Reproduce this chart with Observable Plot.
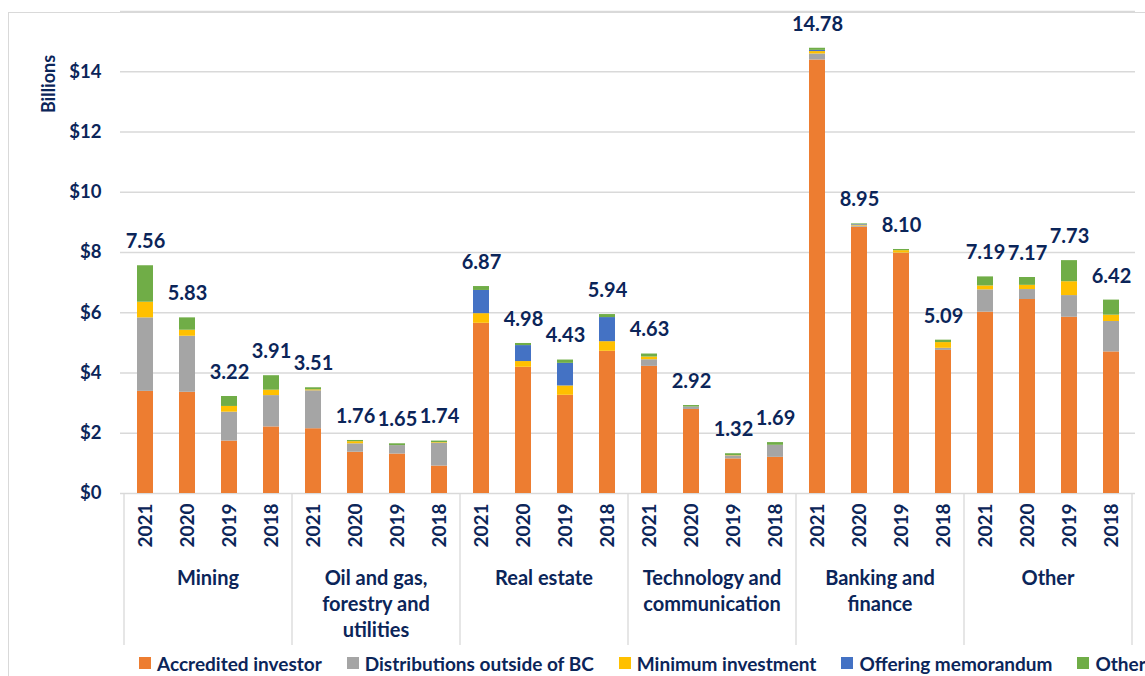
<!DOCTYPE html>
<html><head><meta charset="utf-8">
<script src="https://cdn.jsdelivr.net/npm/d3@7"></script>
<script src="https://cdn.jsdelivr.net/npm/@observablehq/plot@0.6"></script>
<style>
body{margin:0;background:#fff;font-family:Lato,sans-serif;width:1145px;height:676px;overflow:hidden;position:relative}
#chart{position:absolute;left:0;top:0}
#frame{position:absolute;left:8px;top:12px;width:1200px;height:700px;border:1px solid #d9d9d9;pointer-events:none}
#legend{position:absolute;left:139px;top:650px;height:26px;display:flex;align-items:center;white-space:nowrap;font-weight:700;font-size:19px;color:#0b2559}
.item{display:flex;align-items:center;margin-right:25px}
.sw{width:12px;height:12px;margin-right:6px}
</style></head><body>
<div id="chart"></div><div id="legend"></div><div id="frame"></div>
<script>
const navy = "#0b2559";
const categories = ["Mining", "Oil and gas, forestry and utilities", "Real estate", "Technology and communication", "Banking and finance", "Other"];
const categoryLines = [["Mining"], ["Oil and gas,", "forestry and", "utilities"], ["Real estate"], ["Technology and", "communication"], ["Banking and", "finance"], ["Other"]];
const years = ["2021", "2020", "2019", "2018"];
const seriesNames = ["Accredited investor", "Distributions outside of BC", "Minimum investment", "Offering memorandum", "Other"];
const seriesColors = ["#ED7D31", "#A5A5A5", "#FFC000", "#4472C4", "#70AD47"];
const yTicks = [0, 2, 4, 6, 8, 10, 12, 14];
const gridValues = [0, 2, 4, 6, 8, 10, 12, 14, 16];

// values per category (rows) by year 2021, 2020, 2019, 2018 (columns), $ billions
const accredited = [
  [3.39, 3.36, 1.74, 2.21],
  [2.15, 1.37, 1.31, 0.91],
  [5.65, 4.19, 3.26, 4.72],
  [4.22, 2.79, 1.15, 1.20],
  [14.39, 8.84, 7.97, 4.75],
  [6.02, 6.44, 5.85, 4.70]
];
const distributions = [
  [2.44, 1.86, 0.96, 1.04],
  [1.26, 0.28, 0.28, 0.76],
  [0, 0, 0, 0],
  [0.22, 0.08, 0.10, 0.40],
  [0.20, 0.04, 0.01, 0.07],
  [0.74, 0.33, 0.72, 1.01]
];
const minimum = [
  [0.52, 0.20, 0.19, 0.18],
  [0.03, 0.07, 0, 0.02],
  [0.32, 0.19, 0.31, 0.32],
  [0.09, 0, 0.01, 0],
  [0.08, 0.03, 0.08, 0.19],
  [0.13, 0.14, 0.46, 0.21]
];
const offering = [
  [0, 0, 0, 0],
  [0, 0, 0, 0],
  [0.77, 0.53, 0.75, 0.80],
  [0, 0, 0, 0],
  [0.04, 0.02, 0, 0],
  [0, 0, 0, 0]
];
const otherExempt = [
  [1.21, 0.41, 0.33, 0.48],
  [0.07, 0.04, 0.06, 0.05],
  [0.13, 0.07, 0.11, 0.10],
  [0.10, 0.05, 0.06, 0.09],
  [0.07, 0.02, 0.04, 0.08],
  [0.30, 0.26, 0.70, 0.50]
];
const totals = [
  [7.56, 5.83, 3.22, 3.91],
  [3.51, 1.76, 1.65, 1.74],
  [6.87, 4.98, 4.43, 5.94],
  [4.63, 2.92, 1.32, 1.69],
  [14.78, 8.95, 8.10, 5.09],
  [7.19, 7.17, 7.73, 6.42]
];
const seriesValues = [accredited, distributions, minimum, offering, otherExempt];

const keys = categories.flatMap(c => years.map(y => c + "|" + y));
const rows = [];
categories.forEach((c, ci) => years.forEach((y, yi) => seriesNames.forEach((s, si) =>
  rows.push({key: c + "|" + y, series: s, value: seriesValues[si][ci][yi]}))));
const totalRows = [];
categories.forEach((c, ci) => years.forEach((y, yi) => totalRows.push({key: c + "|" + y, total: totals[ci][yi]})));

const chart = Plot.plot({
  width: 1145, height: 650,
  marginLeft: 120, marginRight: 10, marginTop: 11, marginBottom: 157,
  style: {fontFamily: "Lato, sans-serif", fontWeight: "bold", fontSize: "18px", color: navy, background: "transparent", overflow: "visible"},
  x: {domain: keys, paddingInner: 0.62, paddingOuter: 0.31, align: 0.5},
  y: {domain: [0, 16]},
  color: {domain: seriesNames, range: seriesColors},
  marks: [
    Plot.ruleY(gridValues, {stroke: "#d9d9d9", strokeWidth: 1.3}),
    Plot.barY(rows, {x: "key", y: "value", fill: "series"}),
    Plot.text(totalRows, {x: "key", y: "total", text: d => d.total.toFixed(2), dy: -24, fontSize: 20, fontWeight: "bold", fill: navy}),
    Plot.axisY({ticks: yTicks, tickFormat: d => "$" + d, tickSize: 0, tickPadding: 19, fontSize: 18.5, label: null}),
    Plot.axisX({tickFormat: k => k.split("|")[1], tickRotate: -90, tickSize: 0, tickPadding: 10, fontSize: 19, label: null})
  ]
});
document.getElementById("chart").appendChild(chart);

// category separators and group labels from the x/y scales
const xs = chart.scale("x");
const ys = chart.scale("y");
const svg = d3.select(chart);
const step = xs.step, bw = xs.bandwidth;
const y0 = ys.apply(0);
const g = svg.append("g");
categories.forEach((c, ci) => {
  const first = xs.apply(c + "|" + years[0]);
  const last = xs.apply(c + "|" + years[years.length - 1]);
  const left = first - (step - bw) / 2;
  const right = last + bw + (step - bw) / 2;
  const center = (left + right) / 2;
  if (ci === 0) g.append("line").attr("x1", left).attr("x2", left).attr("y1", y0).attr("y2", y0 + 152).attr("stroke", "#d9d9d9").attr("stroke-width", 1.3);
  g.append("line").attr("x1", right).attr("x2", right).attr("y1", y0).attr("y2", y0 + 152).attr("stroke", "#d9d9d9").attr("stroke-width", 1.3);
  categoryLines[ci].forEach((line, li) => {
    g.append("text").attr("x", center).attr("y", y0 + 87 + li * 26).attr("text-anchor", "middle")
      .attr("dominant-baseline", "middle").attr("fill", navy).attr("font-size", 20).attr("font-weight", "bold").text(line);
  });
});
svg.append("text").attr("transform", "translate(50,84) rotate(-90)").attr("text-anchor", "middle")
  .attr("dominant-baseline", "middle").attr("fill", navy).attr("font-size", 18).attr("font-weight", "bold").text("Billions");

// legend
const legend = d3.select("#legend");
seriesNames.forEach((s, i) => {
  const it = legend.append("div").attr("class", "item");
  it.append("div").attr("class", "sw").style("background", seriesColors[i]);
  it.append("span").text(s);
});
</script></body></html>
